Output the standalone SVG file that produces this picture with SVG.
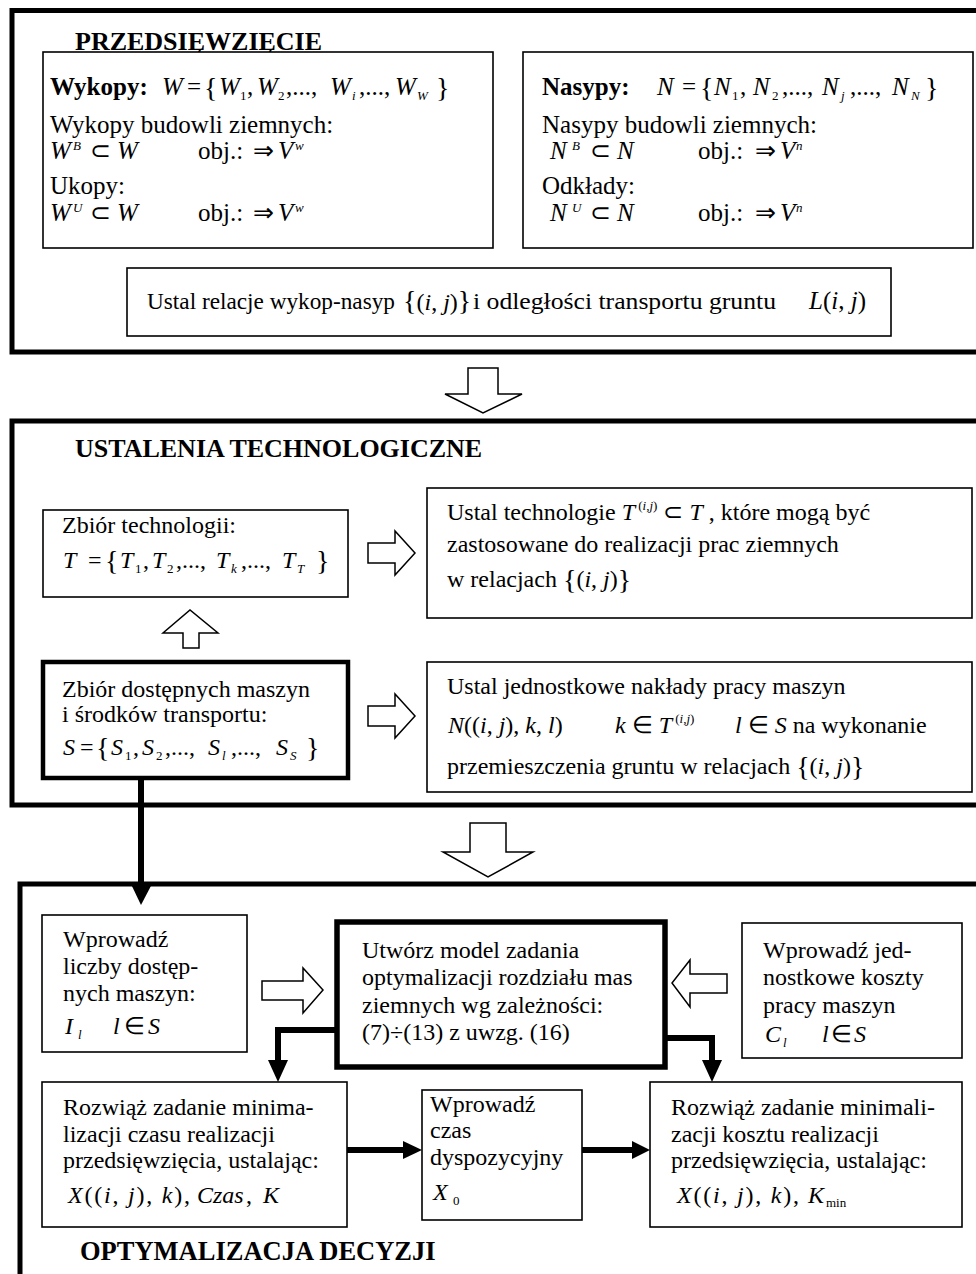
<svg xmlns="http://www.w3.org/2000/svg" width="976" height="1274" viewBox="0 0 976 1274">
<style>
.t{font-family:"Liberation Serif","Times New Roman",serif;font-size:24px;fill:#000}
.t25{font-size:25px}
.h{font-family:"Liberation Serif","Times New Roman",serif;font-size:26px;font-weight:bold;fill:#000}
.b{font-weight:bold}
.i{font-style:italic}
.s{font-size:13px}
.br{font-size:28px}
.frame{fill:none;stroke:#000;stroke-width:5}
.box{fill:#fff;stroke:#000;stroke-width:1.6}
.tbox{fill:#fff;stroke:#000;stroke-width:4.5}
.hol{fill:#fff;stroke:#000;stroke-width:1.5;stroke-linejoin:miter}
.con{fill:none;stroke:#000;stroke-width:6}
.ah{fill:#000}
</style>
<rect width="976" height="1274" fill="#fff"/>

<g id="frame-przedsiewziecie">
<rect class="frame" x="12" y="10.5" width="1000" height="341.5"/>
<text class="h" x="75" y="50">PRZEDSIĘWZIĘCIE</text>
</g>

<g id="node-wykopy">
<rect class="box" x="43" y="52" width="450" height="196"/>
<text class="t t25" x="50" y="95"><tspan class="b">Wykopy:</tspan><tspan x="162" class="i">W</tspan><tspan x="187">=</tspan><tspan x="204" class="br" y="97">{</tspan><tspan x="219" y="95" class="i">W</tspan><tspan x="240" y="100" class="s">1</tspan><tspan x="247" y="95">,</tspan><tspan x="257" class="i">W</tspan><tspan x="278" y="100" class="s">2</tspan><tspan x="286" y="95">,...,</tspan><tspan x="330" class="i">W</tspan><tspan x="352" y="100" class="s i">i</tspan><tspan x="359" y="95">,...,</tspan><tspan x="395" class="i">W</tspan><tspan x="417" y="100" class="s i">W</tspan><tspan x="436" y="97" class="br">}</tspan></text>
<text class="t t25" x="50" y="133">Wykopy budowli ziemnych:</text>
<text class="t t25" x="50" y="159"><tspan class="i">W</tspan><tspan x="73" y="150" class="s i">B</tspan><tspan x="90" y="159">⊂</tspan><tspan x="117" class="i">W</tspan><tspan x="198">obj.:</tspan><tspan x="253">⇒</tspan><tspan x="278" class="i">V</tspan><tspan x="295" y="150" class="s i">w</tspan></text>
<text class="t t25" x="50" y="194">Ukopy:</text>
<text class="t t25" x="50" y="221"><tspan class="i">W</tspan><tspan x="73" y="212" class="s i">U</tspan><tspan x="90" y="221">⊂</tspan><tspan x="117" class="i">W</tspan><tspan x="198">obj.:</tspan><tspan x="253">⇒</tspan><tspan x="278" class="i">V</tspan><tspan x="295" y="212" class="s i">w</tspan></text>
</g>

<g id="node-nasypy">
<rect class="box" x="523" y="52" width="450" height="196"/>
<text class="t t25" x="542" y="95"><tspan class="b">Nasypy:</tspan><tspan x="657" class="i">N</tspan><tspan x="682">=</tspan><tspan x="700" class="br" y="97">{</tspan><tspan x="714" y="95" class="i">N</tspan><tspan x="732" y="100" class="s">1</tspan><tspan x="740" y="95">,</tspan><tspan x="753" class="i">N</tspan><tspan x="772" y="100" class="s">2</tspan><tspan x="782" y="95">,...,</tspan><tspan x="822" class="i">N</tspan><tspan x="841" y="100" class="s i">j</tspan><tspan x="850" y="95">,...,</tspan><tspan x="892" class="i">N</tspan><tspan x="911" y="100" class="s i">N</tspan><tspan x="925" y="97" class="br">}</tspan></text>
<text class="t t25" x="542" y="133">Nasypy budowli ziemnych:</text>
<text class="t t25" x="550" y="159"><tspan class="i">N</tspan><tspan x="572" y="150" class="s i">B</tspan><tspan x="590" y="159">⊂</tspan><tspan x="617" class="i">N</tspan><tspan x="698">obj.:</tspan><tspan x="755">⇒</tspan><tspan x="780" class="i">V</tspan><tspan x="796" y="150" class="s i">n</tspan></text>
<text class="t t25" x="542" y="194">Odkłady:</text>
<text class="t t25" x="550" y="221"><tspan class="i">N</tspan><tspan x="572" y="212" class="s i">U</tspan><tspan x="590" y="221">⊂</tspan><tspan x="617" class="i">N</tspan><tspan x="698">obj.:</tspan><tspan x="755">⇒</tspan><tspan x="780" class="i">V</tspan><tspan x="796" y="212" class="s i">n</tspan></text>
</g>

<g id="node-relacje">
<rect class="box" x="127" y="268" width="764" height="68"/>
<text class="t" x="147" y="309" textLength="248" lengthAdjust="spacingAndGlyphs">Ustal relacje wykop-nasyp</text>
<text class="t" x="403" y="310"><tspan class="br">{</tspan>(<tspan class="i">i</tspan>, <tspan class="i">j</tspan>)<tspan class="br">}</tspan></text>
<text class="t" x="473" y="309" textLength="303" lengthAdjust="spacingAndGlyphs">i odległości transportu gruntu</text>
<text class="t t25" x="809" y="309"><tspan class="i">L</tspan>(<tspan class="i">i</tspan>, <tspan class="i">j</tspan>)</text>
</g>

<g id="frame-ustalenia">
<rect class="frame" x="12" y="421" width="1000" height="384"/>
<text class="h" x="75" y="457">USTALENIA TECHNOLOGICZNE</text>
</g>

<g id="node-zbior-technologii">
<rect class="box" x="43" y="510" width="305" height="87"/>
<text class="t" x="62" y="533">Zbiór technologii:</text>
<text class="t" x="63" y="568"><tspan class="i">T</tspan><tspan x="88">=</tspan><tspan x="105" class="br" y="570">{</tspan><tspan x="120" y="568" class="i">T</tspan><tspan x="135" y="573" class="s">1</tspan><tspan x="143" y="568">,</tspan><tspan x="152" class="i">T</tspan><tspan x="167" y="573" class="s">2</tspan><tspan x="176" y="568">,...,</tspan><tspan x="216" class="i">T</tspan><tspan x="231" y="573" class="s i">k</tspan><tspan x="241" y="568">,...,</tspan><tspan x="282" class="i">T</tspan><tspan x="297" y="573" class="s i">T</tspan><tspan x="316" y="570" class="br">}</tspan></text>
</g>

<g id="node-ustal-technologie">
<rect class="box" x="427" y="488" width="545" height="130"/>
<text class="t" x="447" y="520">Ustal technologie <tspan class="i">T</tspan><tspan class="s" dy="-10"> (<tspan class="i">i</tspan>,<tspan class="i">j</tspan>)</tspan><tspan dy="10"> ⊂ </tspan><tspan class="i">T</tspan> , które mogą być</text>
<text class="t" x="447" y="552">zastosowane do realizacji prac ziemnych</text>
<text class="t" x="447" y="587">w relacjach  <tspan class="br" y="589">{</tspan><tspan y="587">(</tspan><tspan class="i">i</tspan>, <tspan class="i">j</tspan>)<tspan class="br" y="589">}</tspan></text>
</g>

<g id="node-zbior-maszyn">
<rect class="tbox" x="43" y="662" width="305" height="116"/>
<text class="t" x="62" y="697">Zbiór dostępnych maszyn</text>
<text class="t" x="62" y="722">i środków transportu:</text>
<text class="t" x="63" y="755"><tspan class="i">S</tspan><tspan x="80">=</tspan><tspan x="96" class="br" y="757">{</tspan><tspan x="111" y="755" class="i">S</tspan><tspan x="125" y="760" class="s">1</tspan><tspan x="133" y="755">,</tspan><tspan x="142" class="i">S</tspan><tspan x="156" y="760" class="s">2</tspan><tspan x="165" y="755">,...,</tspan><tspan x="208" class="i">S</tspan><tspan x="222" y="760" class="s i">l</tspan><tspan x="231" y="755">,...,</tspan><tspan x="276" class="i">S</tspan><tspan x="290" y="760" class="s i">S</tspan><tspan x="306" y="757" class="br">}</tspan></text>
</g>

<g id="node-naklady">
<rect class="box" x="427" y="662" width="545" height="130"/>
<text class="t" x="447" y="694">Ustal jednostkowe nakłady pracy maszyn</text>
<text class="t" x="448" y="733"><tspan class="i">N</tspan>((<tspan class="i">i</tspan>, <tspan class="i">j</tspan>), <tspan class="i">k</tspan>, <tspan class="i">l</tspan>)<tspan x="615" class="i">k</tspan> ∈ <tspan class="i">T</tspan><tspan class="s" dy="-10"> (<tspan class="i">i</tspan>,<tspan class="i">j</tspan>)</tspan><tspan dy="10" x="735" class="i">l</tspan> ∈ <tspan class="i">S</tspan>  na wykonanie</text>
<text class="t" x="447" y="774">przemieszczenia gruntu w relacjach  <tspan class="br" y="776">{</tspan><tspan y="774">(</tspan><tspan class="i">i</tspan>, <tspan class="i">j</tspan>)<tspan class="br" y="776">}</tspan></text>
</g>

<g id="frame-optymalizacja">
<rect class="frame" x="20" y="884" width="1000" height="500"/>
<text class="h" x="80" y="1260" style="font-size:26.5px">OPTYMALIZACJA DECYZJI</text>
</g>

<g id="node-liczby-maszyn">
<rect class="box" x="42" y="915" width="205" height="137"/>
<text class="t" x="63" y="947">Wprowadź</text>
<text class="t" x="63" y="974">liczby dostęp-</text>
<text class="t" x="63" y="1001">nych maszyn:</text>
<text class="t" x="65" y="1034"><tspan class="i">I</tspan><tspan x="78" y="1039" class="s i">l</tspan><tspan x="113" y="1034" class="i">l</tspan><tspan x="124">∈</tspan><tspan x="148" class="i">S</tspan></text>
</g>

<g id="node-model">
<rect class="box" x="337" y="922" width="328" height="145" style="stroke-width:5.5"/>
<text class="t" x="362" y="958">Utwórz model zadania</text>
<text class="t" x="362" y="985">optymalizacji rozdziału mas</text>
<text class="t" x="362" y="1013">ziemnych wg zależności:</text>
<text class="t" x="362" y="1040">(7)÷(13) z uwzg. (16)</text>
</g>

<g id="node-koszty">
<rect class="box" x="742" y="923" width="220" height="135"/>
<text class="t" x="763" y="958">Wprowadź jed-</text>
<text class="t" x="763" y="985">nostkowe koszty</text>
<text class="t" x="763" y="1013">pracy maszyn</text>
<text class="t" x="765" y="1042"><tspan class="i">C</tspan><tspan x="783" y="1047" class="s i">l</tspan><tspan x="822" y="1042" class="i">l</tspan><tspan x="831">∈</tspan><tspan x="854" class="i">S</tspan></text>
</g>

<g id="node-min-czas">
<rect class="box" x="42" y="1082" width="305" height="145"/>
<text class="t" x="63" y="1115">Rozwiąż zadanie minima-</text>
<text class="t" x="63" y="1142">lizacji czasu realizacji</text>
<text class="t" x="63" y="1168">przedsięwzięcia, ustalając:</text>
<text class="t" x="68" y="1203" textLength="122" lengthAdjust="spacing"><tspan class="i">X</tspan>((<tspan class="i">i</tspan>, <tspan class="i">j</tspan>), <tspan class="i">k</tspan>),</text>
<text class="t" x="197" y="1203"><tspan class="i">Czas</tspan><tspan x="246">,</tspan><tspan x="263" class="i">K</tspan></text>
</g>

<g id="node-czas">
<rect class="box" x="422" y="1090" width="160" height="130"/>
<text class="t" x="430" y="1112">Wprowadź</text>
<text class="t" x="430" y="1138">czas</text>
<text class="t" x="430" y="1165">dyspozycyjny</text>
<text class="t" x="433" y="1200"><tspan class="i">X</tspan><tspan x="453" y="1205" class="s">0</tspan></text>
</g>

<g id="node-min-koszt">
<rect class="box" x="650" y="1082" width="312" height="145"/>
<text class="t" x="671" y="1115">Rozwiąż zadanie minimali-</text>
<text class="t" x="671" y="1142">zacji kosztu realizacji</text>
<text class="t" x="671" y="1168">przedsięwzięcia, ustalając:</text>
<text class="t" x="677" y="1203" textLength="122" lengthAdjust="spacing"><tspan class="i">X</tspan>((<tspan class="i">i</tspan>, <tspan class="i">j</tspan>), <tspan class="i">k</tspan>),</text>
<text class="t" x="808" y="1203"><tspan class="i">K</tspan><tspan x="826" y="1207" class="s">min</tspan></text>
</g>

<g id="connectors">
<polygon class="hol" points="468,368 498,368 498,394 522,394 483,413 445,394 468,394"/>
<polygon class="hol" points="470,823 506,823 506,852 533,852 488,877 443,852 470,852"/>
<polygon class="hol" points="368,543 395,543 395,531 415,553 395,575 395,563 368,563"/>
<polygon class="hol" points="368,706 395,706 395,694 415,716 395,738 395,726 368,726"/>
<polygon class="hol" points="183,648 199,648 199,633 218,633 190,610 163,633 183,633"/>
<polygon class="hol" points="262,981 303,981 303,968 323,990 303,1013 303,1000 262,1000"/>
<polygon class="hol" points="727,974 690,974 690,960 672,983 690,1007 690,993 727,993"/>
<path class="con" d="M141,778 V884"/>
<polygon class="ah" points="130,882 153,882 141,905"/>
<path class="con" d="M337,1030 H278 V1062"/>
<polygon class="ah" points="268,1060 288,1060 278,1082"/>
<path class="con" d="M665,1038 H712 V1062"/>
<polygon class="ah" points="702,1060 722,1060 712,1082"/>
<path class="con" d="M347,1150 H404"/>
<polygon class="ah" points="403,1141 422,1150 403,1159"/>
<path class="con" d="M582,1150 H633"/>
<polygon class="ah" points="632,1141 650,1150 632,1159"/>
</g>
</svg>
